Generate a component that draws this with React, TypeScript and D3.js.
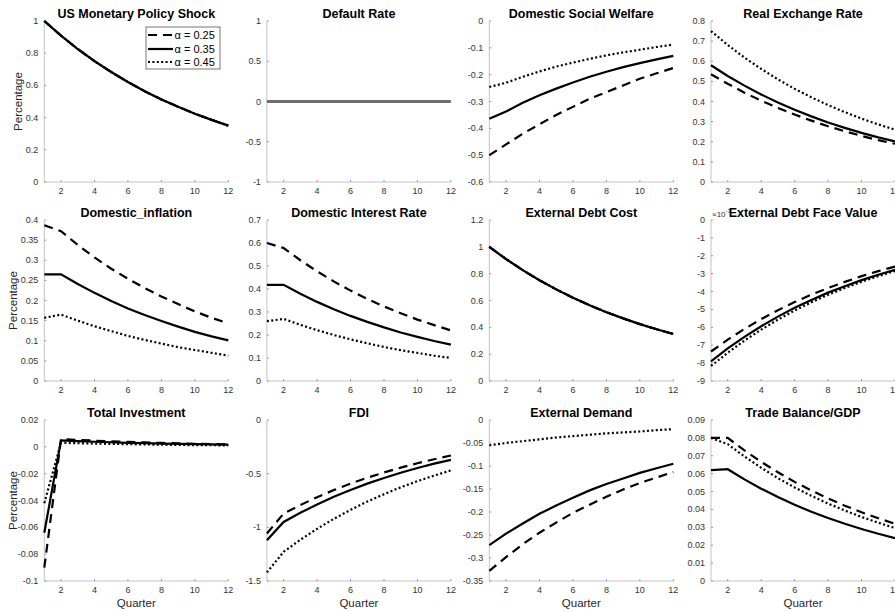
import React from "react";
import * as d3 from "d3";

const quarters = [1, 2, 3, 4, 5, 6, 7, 8, 9, 10, 11, 12];
const legendLabels = ["α = 0.25", "α = 0.35", "α = 0.45"];
const xTicks = [2, 4, 6, 8, 10, 12];

// US Monetary Policy Shock (same for all alphas)
const usShock = [1.0, 0.909, 0.826, 0.751, 0.683, 0.621, 0.564, 0.513, 0.467, 0.424, 0.386, 0.35];
const defaultRate = [0, 0, 0, 0, 0, 0, 0, 0, 0, 0, 0, 0];
const welfare25 = [-0.5, -0.46, -0.42, -0.385, -0.35, -0.32, -0.29, -0.265, -0.24, -0.215, -0.195, -0.175];
const welfare35 = [-0.364, -0.337, -0.305, -0.277, -0.252, -0.229, -0.208, -0.189, -0.172, -0.157, -0.143, -0.13];
const welfare45 = [-0.246, -0.23, -0.208, -0.188, -0.17, -0.155, -0.141, -0.128, -0.117, -0.107, -0.097, -0.088];
const rer25 = [0.535, 0.488, 0.444, 0.404, 0.368, 0.335, 0.305, 0.277, 0.252, 0.229, 0.208, 0.19];
const rer35 = [0.58, 0.527, 0.479, 0.435, 0.395, 0.359, 0.326, 0.296, 0.269, 0.244, 0.222, 0.202];
const rer45 = [0.75, 0.681, 0.618, 0.562, 0.51, 0.463, 0.421, 0.382, 0.347, 0.315, 0.286, 0.26];
const infl25 = [0.387, 0.372, 0.338, 0.307, 0.279, 0.254, 0.231, 0.21, 0.191, 0.173, 0.157, 0.143];
const infl35 = [0.265, 0.265, 0.241, 0.219, 0.199, 0.18, 0.164, 0.149, 0.135, 0.122, 0.111, 0.101];
const infl45 = [0.157, 0.165, 0.15, 0.136, 0.124, 0.112, 0.102, 0.093, 0.084, 0.077, 0.07, 0.063];
const rate25 = [0.6, 0.578, 0.525, 0.477, 0.433, 0.393, 0.357, 0.324, 0.295, 0.267, 0.243, 0.22];
const rate35 = [0.418, 0.418, 0.379, 0.344, 0.312, 0.283, 0.257, 0.233, 0.211, 0.192, 0.174, 0.158];
const rate45 = [0.26, 0.27, 0.244, 0.221, 0.2, 0.181, 0.164, 0.148, 0.134, 0.122, 0.11, 0.1];
const debtCost = [1.0, 0.909, 0.826, 0.751, 0.683, 0.621, 0.564, 0.513, 0.467, 0.424, 0.386, 0.35];
// External debt face value, in units of 10^-3
const face25 = [-7.35, -6.69, -6.09, -5.54, -5.04, -4.59, -4.17, -3.8, -3.46, -3.14, -2.86, -2.6];
const face35 = [-7.9, -7.18, -6.53, -5.94, -5.4, -4.91, -4.47, -4.06, -3.7, -3.36, -3.06, -2.78];
const face45 = [-8.16, -7.42, -6.74, -6.13, -5.57, -5.06, -4.6, -4.18, -3.8, -3.45, -3.14, -2.85];
const inv25 = [-0.09, 0.0058, 0.0052, 0.0046, 0.0041, 0.0037, 0.0033, 0.0029, 0.0026, 0.0023, 0.0021, 0.0019];
const inv35 = [-0.064, 0.0048, 0.0043, 0.0038, 0.0034, 0.003, 0.0027, 0.0024, 0.0022, 0.002, 0.0018, 0.0016];
const inv45 = [-0.042, 0.003, 0.0027, 0.0024, 0.0022, 0.002, 0.0018, 0.0016, 0.0014, 0.0013, 0.0012, 0.0011];
const fdi25 = [-1.058, -0.872, -0.792, -0.719, -0.653, -0.593, -0.538, -0.489, -0.444, -0.403, -0.366, -0.331];
const fdi35 = [-1.12, -0.95, -0.865, -0.787, -0.716, -0.652, -0.593, -0.54, -0.491, -0.447, -0.407, -0.371];
const fdi45 = [-1.42, -1.228, -1.116, -1.014, -0.921, -0.837, -0.76, -0.691, -0.627, -0.57, -0.518, -0.47];
const ext25 = [-0.328, -0.298, -0.27, -0.245, -0.223, -0.202, -0.184, -0.167, -0.151, -0.137, -0.125, -0.113];
const ext35 = [-0.272, -0.247, -0.225, -0.204, -0.186, -0.169, -0.153, -0.139, -0.127, -0.115, -0.105, -0.095];
const ext45 = [-0.055, -0.05, -0.046, -0.042, -0.038, -0.035, -0.032, -0.029, -0.027, -0.025, -0.022, -0.02];
const tb25 = [0.08, 0.08, 0.073, 0.0666, 0.0608, 0.0554, 0.0506, 0.0462, 0.0421, 0.0384, 0.0351, 0.032];
const tb35 = [0.062, 0.0625, 0.0568, 0.0516, 0.0469, 0.0426, 0.0387, 0.0352, 0.032, 0.0291, 0.0264, 0.024];
const tb45 = [0.08, 0.0765, 0.0696, 0.0633, 0.0575, 0.0523, 0.0476, 0.0433, 0.0394, 0.0358, 0.0326, 0.0296];

const yTicks1 = [0, 0.2, 0.4, 0.6, 0.8, 1];
const yTicks2 = [-1, -0.5, 0, 0.5, 1];
const yTicks3 = [-0.6, -0.5, -0.4, -0.3, -0.2, -0.1, 0];
const yTicks4 = [0, 0.1, 0.2, 0.3, 0.4, 0.5, 0.6, 0.7, 0.8];
const yTicks5 = [0, 0.05, 0.1, 0.15, 0.2, 0.25, 0.3, 0.35, 0.4];
const yTicks6 = [0, 0.1, 0.2, 0.3, 0.4, 0.5, 0.6, 0.7];
const yTicks7 = [0, 0.2, 0.4, 0.6, 0.8, 1, 1.2];
const yTicks8 = [-9, -8, -7, -6, -5, -4, -3, -2, -1, 0];
const yTicks9 = [-0.1, -0.08, -0.06, -0.04, -0.02, 0, 0.02];
const yTicks10 = [-1.5, -1, -0.5, 0];
const yTicks11 = [-0.35, -0.3, -0.25, -0.2, -0.15, -0.1, -0.05, 0];
const yTicks12 = [0, 0.01, 0.02, 0.03, 0.04, 0.05, 0.06, 0.07, 0.08, 0.09];

type Panel = {
  title: string;
  ticks: number[];
  series: number[][];
  gray?: boolean;
  mult?: boolean;
};

const panels: Panel[] = [
  { title: "US Monetary Policy Shock", ticks: yTicks1, series: [usShock, usShock, usShock] },
  { title: "Default Rate", ticks: yTicks2, series: [defaultRate], gray: true },
  { title: "Domestic Social Welfare", ticks: yTicks3, series: [welfare25, welfare35, welfare45] },
  { title: "Real Exchange Rate", ticks: yTicks4, series: [rer25, rer35, rer45] },
  { title: "Domestic_inflation", ticks: yTicks5, series: [infl25, infl35, infl45] },
  { title: "Domestic Interest Rate", ticks: yTicks6, series: [rate25, rate35, rate45] },
  { title: "External Debt Cost", ticks: yTicks7, series: [debtCost, debtCost, debtCost] },
  { title: "External Debt Face Value", ticks: yTicks8, series: [face25, face35, face45], mult: true },
  { title: "Total Investment", ticks: yTicks9, series: [inv25, inv35, inv45] },
  { title: "FDI", ticks: yTicks10, series: [fdi25, fdi35, fdi45] },
  { title: "External Demand", ticks: yTicks11, series: [ext25, ext35, ext45] },
  { title: "Trade Balance/GDP", ticks: yTicks12, series: [tb25, tb35, tb45] },
];

const dashes = ["9,6", "", "2,2.4"];
const FONT = "'Liberation Sans', Arial, Helvetica, sans-serif";
const colLeft = [44.3, 266.9, 489.3, 711];
const rowTop = [21, 220, 420];
const yLabelX = [22, 17, 17];
const W = 184;
const H = 161;

function fmt(v: number) {
  const s = d3.format("~g")(Number(v.toPrecision(6)));
  return s.replace("−", "-");
}

function PanelView({ p, i }: { p: Panel; i: number }) {
  const col = i % 4;
  const row = Math.floor(i / 4);
  const x0 = colLeft[col];
  const y0 = rowTop[row];
  const ext = d3.extent(p.ticks) as [number, number];
  const x = d3.scaleLinear().domain([1, 12]).range([x0, x0 + W]);
  const y = d3.scaleLinear().domain(ext).range([y0 + H, y0]);
  const line = d3
    .line<number>()
    .x((_, k) => x(quarters[k]))
    .y((d) => y(d));
  const order = p.series.length === 3 ? [1, 0, 2] : [0];
  return (
    <g>
      <line x1={x0} x2={x0} y1={y0} y2={y0 + H} stroke="#c4c4c4" strokeWidth={1} />
      <line x1={x0} x2={x0 + W} y1={y0 + H} y2={y0 + H} stroke="#c4c4c4" strokeWidth={1} />
      {xTicks.map((t) => (
        <g key={"x" + t}>
          <line x1={x(t)} x2={x(t)} y1={y0 + H} y2={y0 + H - 2} stroke="#999" />
          <text x={x(t)} y={y0 + H + 11.5} fontSize={9} fill="#333" textAnchor="middle" fontFamily={FONT}>
            {t}
          </text>
        </g>
      ))}
      {p.ticks.map((t) => (
        <g key={"y" + t}>
          <line x1={x0} x2={x0 + 2} y1={y(t)} y2={y(t)} stroke="#999" />
          <text x={x0 - 6} y={y(t) + 3} fontSize={9} fill="#333" textAnchor="end" fontFamily={FONT}>
            {fmt(t)}
          </text>
        </g>
      ))}
      {order.map((k) => (
        <path
          key={"s" + k}
          d={line(p.series[k]) || ""}
          fill="none"
          stroke={p.gray ? "#6e6e6e" : "#000"}
          strokeWidth={p.gray ? 2.8 : 2.2}
          strokeDasharray={p.gray ? undefined : dashes[k] || undefined}
        />
      ))}
      {p.mult && (
        <text x={x0 + 1} y={y0 - 3} fontSize={8} fill="#333" fontFamily={FONT}>
          ×10
          <tspan fontSize={6} dy={-4}>-3</tspan>
        </text>
      )}
      <text
        x={x0 + W / 2}
        y={y0 - 3.5}
        fontSize={12.5}
        fontWeight="bold"
        textAnchor="middle"
        fontFamily={FONT}
        fill="#000"
      >
        {p.title}
      </text>
      {col === 0 && (
        <text
          transform={`translate(${yLabelX[row]},${y0 + H / 2}) rotate(-90)`}
          fontSize={11.5}
          textAnchor="middle"
          fill="#262626"
          fontFamily={FONT}
        >
          Percentage
        </text>
      )}
      {row === 2 && (
        <text x={x0 + W / 2} y={y0 + H + 26} fontSize={11.5} textAnchor="middle" fill="#262626" fontFamily={FONT}>
          Quarter
        </text>
      )}
    </g>
  );
}

function Legend() {
  const lx = 146;
  const ly = 27;
  const rows = [35, 49, 62];
  return (
    <g>
      <rect x={lx} y={ly} width={74} height={42} fill="#fff" stroke="#555" strokeWidth={0.8} />
      {legendLabels.map((lab, k) => (
        <g key={lab}>
          <line
            x1={148}
            x2={173}
            y1={rows[k]}
            y2={rows[k]}
            stroke="#000"
            strokeWidth={2.2}
            strokeDasharray={dashes[k] || undefined}
          />
          <text x={174.5} y={rows[k] + 4} fontSize={11} fill="#000" fontFamily={FONT}>
            {lab}
          </text>
        </g>
      ))}
    </g>
  );
}

export default function App() {
  return (
    <svg
      width={895}
      height={612}
      style={{ position: "absolute", left: 0, top: 0, background: "#fff" }}
    >
      <rect x={0} y={0} width={895} height={612} fill="#fff" />
      {panels.map((p, i) => (
        <PanelView key={p.title} p={p} i={i} />
      ))}
      <Legend />
    </svg>
  );
}
